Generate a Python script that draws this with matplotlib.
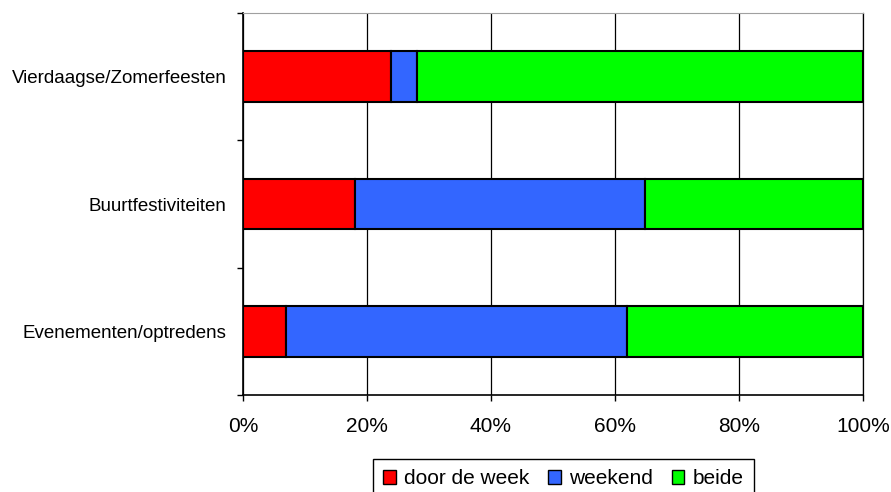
import matplotlib
matplotlib.use("Agg")
import matplotlib.pyplot as plt
import numpy as np

plt.rcParams['font.family'] = ['Liberation Sans', 'DejaVu Sans']

categories = ["Vierdaagse/Zomerfeesten", "Buurtfestiviteiten", "Evenementen/optredens"]
series = ["door de week", "weekend", "beide"]
door_de_week = [23.8, 18.1, 7.0]
weekend = [4.2, 46.7, 54.9]
beide = [72.0, 35.2, 38.1]
colors = ["#FF0000", "#3366FF", "#00FF00"]
xticks = [0, 20, 40, 60, 80, 100]

fig = plt.figure(figsize=(8.91, 4.92), dpi=100)
ax = fig.add_axes([243 / 891, 1 - 395 / 492, 620 / 891, 382 / 492])

y = np.arange(len(categories))
left = np.zeros(len(categories))
for vals, name, col in zip([door_de_week, weekend, beide], series, colors):
    ax.barh(y, vals, left=left, height=0.4, color=col, edgecolor="black",
            linewidth=1.5, label=name, zorder=3)
    left += np.array(vals)

ax.set_xlim(0, 100)
ax.set_ylim(2.5, -0.5)
ax.set_xticks(xticks)
ax.set_xticklabels([f"{v}%" for v in xticks], fontsize=15)
ax.xaxis.grid(True, color="black", linewidth=0.9, zorder=0)

# category labels between boundary ticks
ax.set_yticks([-0.5, 0.5, 1.5, 2.5])
ax.set_yticklabels([])
ax.set_yticks(y, minor=True)
ax.set_yticklabels(categories, minor=True, fontsize=13.5)
ax.tick_params(axis="y", which="minor", length=0, pad=12)
ax.tick_params(axis="y", which="major", length=4, width=1, direction="out")
ax.tick_params(axis="x", length=4, width=1, direction="out", pad=12)

ax.spines["top"].set_color("#A0A0A0")
ax.spines["right"].set_color("black")
ax.spines["right"].set_linewidth(0.9)
for s in ["left", "bottom"]:
    ax.spines[s].set_color("black")
    ax.spines[s].set_linewidth(1.2)

leg = ax.legend(loc="upper left", bbox_to_anchor=(373 / 891, 1 - 459 / 492),
                bbox_transform=fig.transFigure, borderaxespad=0, ncol=3,
                fontsize=15, handlelength=0.6, handleheight=0.6,
                handletextpad=0.4, columnspacing=0.9, borderpad=0.5,
                fancybox=False, framealpha=1, edgecolor="black")
leg.get_frame().set_linewidth(1)
for h in leg.legend_handles:
    h.set_linewidth(1)

fig.savefig("out.png", dpi=100)
